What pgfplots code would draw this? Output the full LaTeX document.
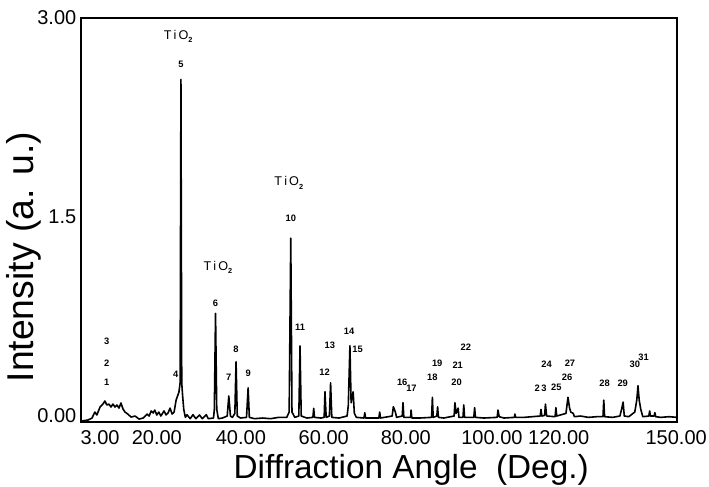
\documentclass[border=0pt]{standalone}
\usepackage{fontspec}
\setmainfont{Liberation Sans}
\usepackage{pgfplots}
\pgfplotsset{compat=1.18}
\begin{document}
\begin{tikzpicture}
\begin{axis}[
  scale only axis,
  width=447pt, height=303pt,
  xmin=1.86, xmax=150, ymin=-0.045, ymax=3.0,
  axis line style={line width=0.9pt},
  xtick={6.6,20.7,41.6,62.2,82.6,104.0,120.6,149.8},
  xticklabels={3.00,20.00,40.00,60.00,80.00,100.00,120.00,150.00},
  x tick style={draw=none},
  xticklabel style={yshift=-3pt},
  extra x ticks={20,40,60,80,100,120,150},
  extra x tick labels={,,,,,,},
  extra x tick style={tick align=outside, major tick length=4.5pt, tick style={draw=black, line width=0.9pt}},
  ytick={0,3},
  yticklabels={0.00,3.00},
  y tick style={draw=none},
  extra y ticks={1.5},
  extra y tick labels={1.5},
  extra y tick style={tick align=inside, major tick length=12.75pt, tick style={draw=black, line width=0.9pt}},
  tick pos=left,
  tick label style={font=\fontsize{15}{15}\selectfont},
  xlabel={Diffraction Angle\ \ (Deg.)},
  ylabel={Intensity\ (a. u.)},
  xlabel style={font=\fontsize{25}{25}\selectfont, at={(axis description cs:0.554,-0.119)}, anchor=center},
  ylabel style={font=\fontsize{28}{28}\selectfont, at={(axis description cs:-0.0956,0.408)}, anchor=center},
  clip=false,
]
\addplot[black, line width=1.2pt, line join=round] coordinates {
(1.9,-0.038) (3.6,-0.03) (4.6,-0.015) (5.3,0.03) (5.8,0.008) (6.6,0.068) (7.3,0.09) (7.8,0.113)
(8.3,0.083) (8.8,0.09) (9.3,0.068) (9.8,0.09) (10.3,0.068) (10.8,0.083) (11.3,0.06) (11.8,0.098)
(12.3,0.053) (12.8,0.03) (13.5,0.015) (14.3,-0.008) (15.3,0) (16.3,-0.023) (17.3,-0.015)
(18.3,0.015) (18.8,0) (19.3,0.038) (19.8,0.023) (20.2,0.045) (20.7,0.008) (21.2,0.03) (21.7,0)
(22.5,0.038) (23.0,0.008) (23.5,0.023) (24.0,0.06) (24.5,0.015) (25.0,0.03) (25.5,0.12)
(26.2,0.18) (26.5,0.25) (26.7,2.537) (26.9,0.25) (27.1,0.16) (27.4,0.05) (27.8,-0.01)
(28.2,0.01) (29.0,-0.02) (29.7,0.01) (30.4,-0.02) (31.3,0.008) (32.0,-0.02) (33.0,0.01) (33.5,-0.02)
(34.8,-0.015) (35.0,0.05) (35.3,0.774) (35.6,0.05) (36.0,-0.02) (37.0,-0.015) (38.2,0.0)
(38.6,0.151) (39.0,0.0) (39.5,-0.01) (40.1,0.02) (40.4,0.409) (40.7,0.0) (41.5,-0.015)
(43.0,-0.01) (43.4,0.213) (43.7,-0.01) (45,-0.02) (47,-0.015) (49,-0.02) (51,-0.01) (53,-0.01)
(53.6,0.03) (54.0,1.34) (54.3,0.03) (55,-0.01) (56.0,0.0) (56.3,0.528) (56.6,0.0) (58,-0.015)
(59.5,-0.01) (59.7,0.058) (59.9,-0.01) (61.5,-0.015) (62.3,-0.01) (62.5,0.183) (62.8,-0.01)
(63.6,0.0) (63.9,0.25) (64.2,-0.01) (66,-0.015) (68.0,0.0) (68.3,0.08) (68.7,0.53) (69.0,0.1)
(69.5,0.183) (69.8,0.02) (70.3,-0.01) (72.2,-0.015) (72.4,0.025) (72.6,-0.015) (75.9,-0.015)
(76.1,0.03) (76.3,-0.015) (79.2,0.0) (79.5,0.07) (80.0,0.03) (80.3,-0.01) (81.7,0.0) (81.9,0.10)
(82.1,-0.01) (83.8,-0.01) (83.9,0.045) (84.1,-0.015) (86,-0.015) (89.0,-0.01) (89.2,0.141)
(89.4,-0.01) (90.3,0.0) (90.5,0.07) (90.7,-0.01) (92,-0.015) (94.6,0.0) (94.8,0.10) (95.1,0.02)
(95.6,0.06) (95.8,-0.01) (96.8,-0.01) (97.0,0.083) (97.2,-0.01) (99.5,-0.01) (99.7,0.063)
(99.9,-0.01) (102,-0.015) (105.3,-0.01) (105.5,0.045) (105.8,-0.005) (107,-0.015) (109.6,-0.01)
(109.7,0.015) (109.9,-0.01) (112,-0.01) (114,-0.005) (116.0,0.0) (116.2,0.05) (116.4,0.0)
(117.1,0.005) (117.3,0.09) (117.6,0.0) (119.7,-0.005) (119.9,0.063) (120.1,0.0) (122.4,0.02)
(122.9,0.141) (123.3,0.06) (123.6,0.03) (124.2,0.02) (124.5,-0.005) (126,0.0) (128,-0.01)
(130,-0.005) (131.6,-0.005) (131.8,0.12) (132.0,-0.005) (134,-0.01) (135.8,0.0) (136.3,0.06)
(136.6,0.105) (136.9,0.0) (138,-0.005) (139.5,0.03) (140.0,0.12) (140.3,0.228) (140.6,0.12)
(141.0,0.05) (141.5,-0.005) (143.0,0.0) (143.2,0.038) (143.4,0.0) (144.3,0.0) (144.5,0.025)
(144.7,-0.005) (146,-0.01) (148,-0.005) (150,-0.01)
};
\begin{scope}[every node/.style={font=\fontsize{7}{7}\selectfont\bfseries, inner sep=0pt}]
\node at (axis cs:8.25,0.256) {1};
\node at (axis cs:8.25,0.40) {2};
\node at (axis cs:8.25,0.56) {3};
\node at (axis cs:25.4,0.314) {4};
\node at (axis cs:26.7,2.65) {5};
\node at (axis cs:35.3,0.85) {6};
\node at (axis cs:38.6,0.294) {7};
\node at (axis cs:40.4,0.505) {8};
\node at (axis cs:43.4,0.319) {9};
\node at (axis cs:54.0,1.494) {10};
\node at (axis cs:56.3,0.67) {11};
\node at (axis cs:62.4,0.33) {12};
\node at (axis cs:63.7,0.535) {13};
\node at (axis cs:68.5,0.64) {14};
\node at (axis cs:70.6,0.50) {15};
\node at (axis cs:81.7,0.254) {16};
\node at (axis cs:84.0,0.206) {17};
\node at (axis cs:89.2,0.29) {18};
\node at (axis cs:90.4,0.40) {19};
\node at (axis cs:95.2,0.256) {20};
\node at (axis cs:95.5,0.384) {21};
\node at (axis cs:97.5,0.52) {22};
\node at (axis cs:116.1,0.209) {2\,3};
\node at (axis cs:117.6,0.392) {24};
\node at (axis cs:120.0,0.213) {25};
\node at (axis cs:122.7,0.29) {26};
\node at (axis cs:123.4,0.397) {27};
\node at (axis cs:132.0,0.249) {28};
\node at (axis cs:136.5,0.249) {29};
\node at (axis cs:139.5,0.39) {30};
\node at (axis cs:141.7,0.44) {31};
\end{scope}
\begin{scope}[every node/.style={font=\fontsize{9.5}{9.5}\selectfont, inner sep=0pt}]
\node at (axis cs:26.0,2.86) {T\,i\,O\raisebox{-0.5ex}{\fontsize{5.5}{5.5}\selectfont\bfseries 2}};
\node at (axis cs:35.9,1.12) {T\,i\,O\raisebox{-0.5ex}{\fontsize{5.5}{5.5}\selectfont\bfseries 2}};
\node at (axis cs:53.5,1.756) {T\,i\,O\raisebox{-0.5ex}{\fontsize{5.5}{5.5}\selectfont\bfseries 2}};
\end{scope}
\end{axis}
\pgfresetboundingbox
\path[use as bounding box] ([shift={(-60.75pt,-48pt)}]current axis.south west) rectangle ([shift={(24pt,13.5pt)}]current axis.north east);
\end{tikzpicture}
\end{document}
